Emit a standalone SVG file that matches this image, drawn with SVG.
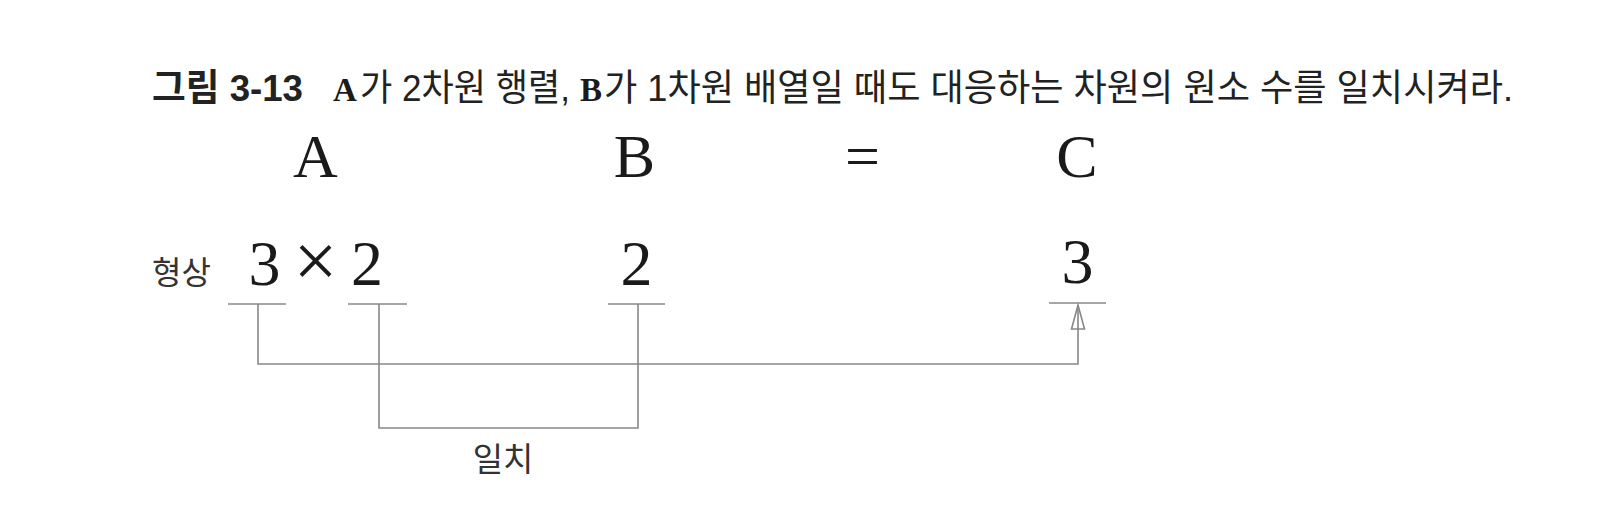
<svg xmlns="http://www.w3.org/2000/svg" width="1598" height="532" viewBox="0 0 1598 532">
<defs>
<style>
.sans{font-family:"Liberation Sans","Noto Sans CJK KR",sans-serif;fill:#222}
.kr{font-family:"Noto Sans CJK KR","Liberation Sans",sans-serif;fill:#333}
.serif{font-family:"Liberation Serif","Noto Sans CJK KR",serif;fill:#1a1a1a}
.big{font-size:62px}
.dig{font-size:64px}
.conn{fill:none;stroke:#888;stroke-width:1.6}
.ul{stroke:#888;stroke-width:1.6}
</style>
<marker id="hollow" viewBox="0 0 24 14" refX="24" refY="7" markerWidth="24" markerHeight="14" markerUnits="userSpaceOnUse" orient="auto" overflow="visible">
<path d="M0,0.5 L24,7 L0,13.5 Z" fill="none" stroke="#888" stroke-width="1.6"/>
</marker>
</defs>
<rect width="1598" height="532" fill="#fff"/>
<g id="title">
<text class="sans" x="152" y="101" font-size="37" font-weight="bold" textLength="151" lengthAdjust="spacingAndGlyphs">그림 3-13</text>
<text class="serif" x="333" y="101" font-size="33" font-weight="bold">A</text>
<text class="sans" x="360" y="101" font-size="37" textLength="210" lengthAdjust="spacingAndGlyphs">가 2차원 행렬,</text>
<text class="serif" x="580" y="101" font-size="33" font-weight="bold">B</text>
<text class="sans" x="604" y="101" font-size="37" textLength="909" lengthAdjust="spacingAndGlyphs">가 1차원 배열일 때도 대응하는 차원의 원소 수를 일치시켜라.</text>
</g>
<g id="header-row" text-anchor="middle">
<text id="A" class="serif big" x="315.5" y="177">A</text>
<text id="B" class="serif big" x="634.5" y="177">B</text>
<text id="eq" class="serif big" x="862.5" y="177">=</text>
<text id="C" class="serif big" x="1077" y="177">C</text>
</g>
<g id="shape-label"><text class="kr" x="152" y="284" font-size="32">형상</text></g>
<g id="shapeA" text-anchor="middle">
<text class="serif dig" x="264.5" y="285">3</text>
<text class="serif" x="315.5" y="287" font-size="78">×</text>
<text class="serif dig" x="367" y="285">2</text>
<line class="ul" x1="228" y1="304" x2="286" y2="304"/>
<line class="ul" x1="348" y1="304" x2="407" y2="304"/>
</g>
<g id="shapeB" text-anchor="middle">
<text class="serif dig" x="636.5" y="285">2</text>
<line class="ul" x1="608" y1="304" x2="665" y2="304"/>
</g>
<g id="shapeC" text-anchor="middle">
<text class="serif dig" x="1077.5" y="283">3</text>
<line class="ul" x1="1049" y1="303" x2="1106" y2="303"/>
</g>
<g id="connectors">
<path class="conn" d="M258,304 V364 H1078 V305" marker-end="url(#hollow)"/>
<path class="conn" d="M379,304 V428 H638 V304"/>
</g>
<g id="match-label"><text class="kr" x="503" y="471" font-size="33" text-anchor="middle">일치</text></g>
</svg>
